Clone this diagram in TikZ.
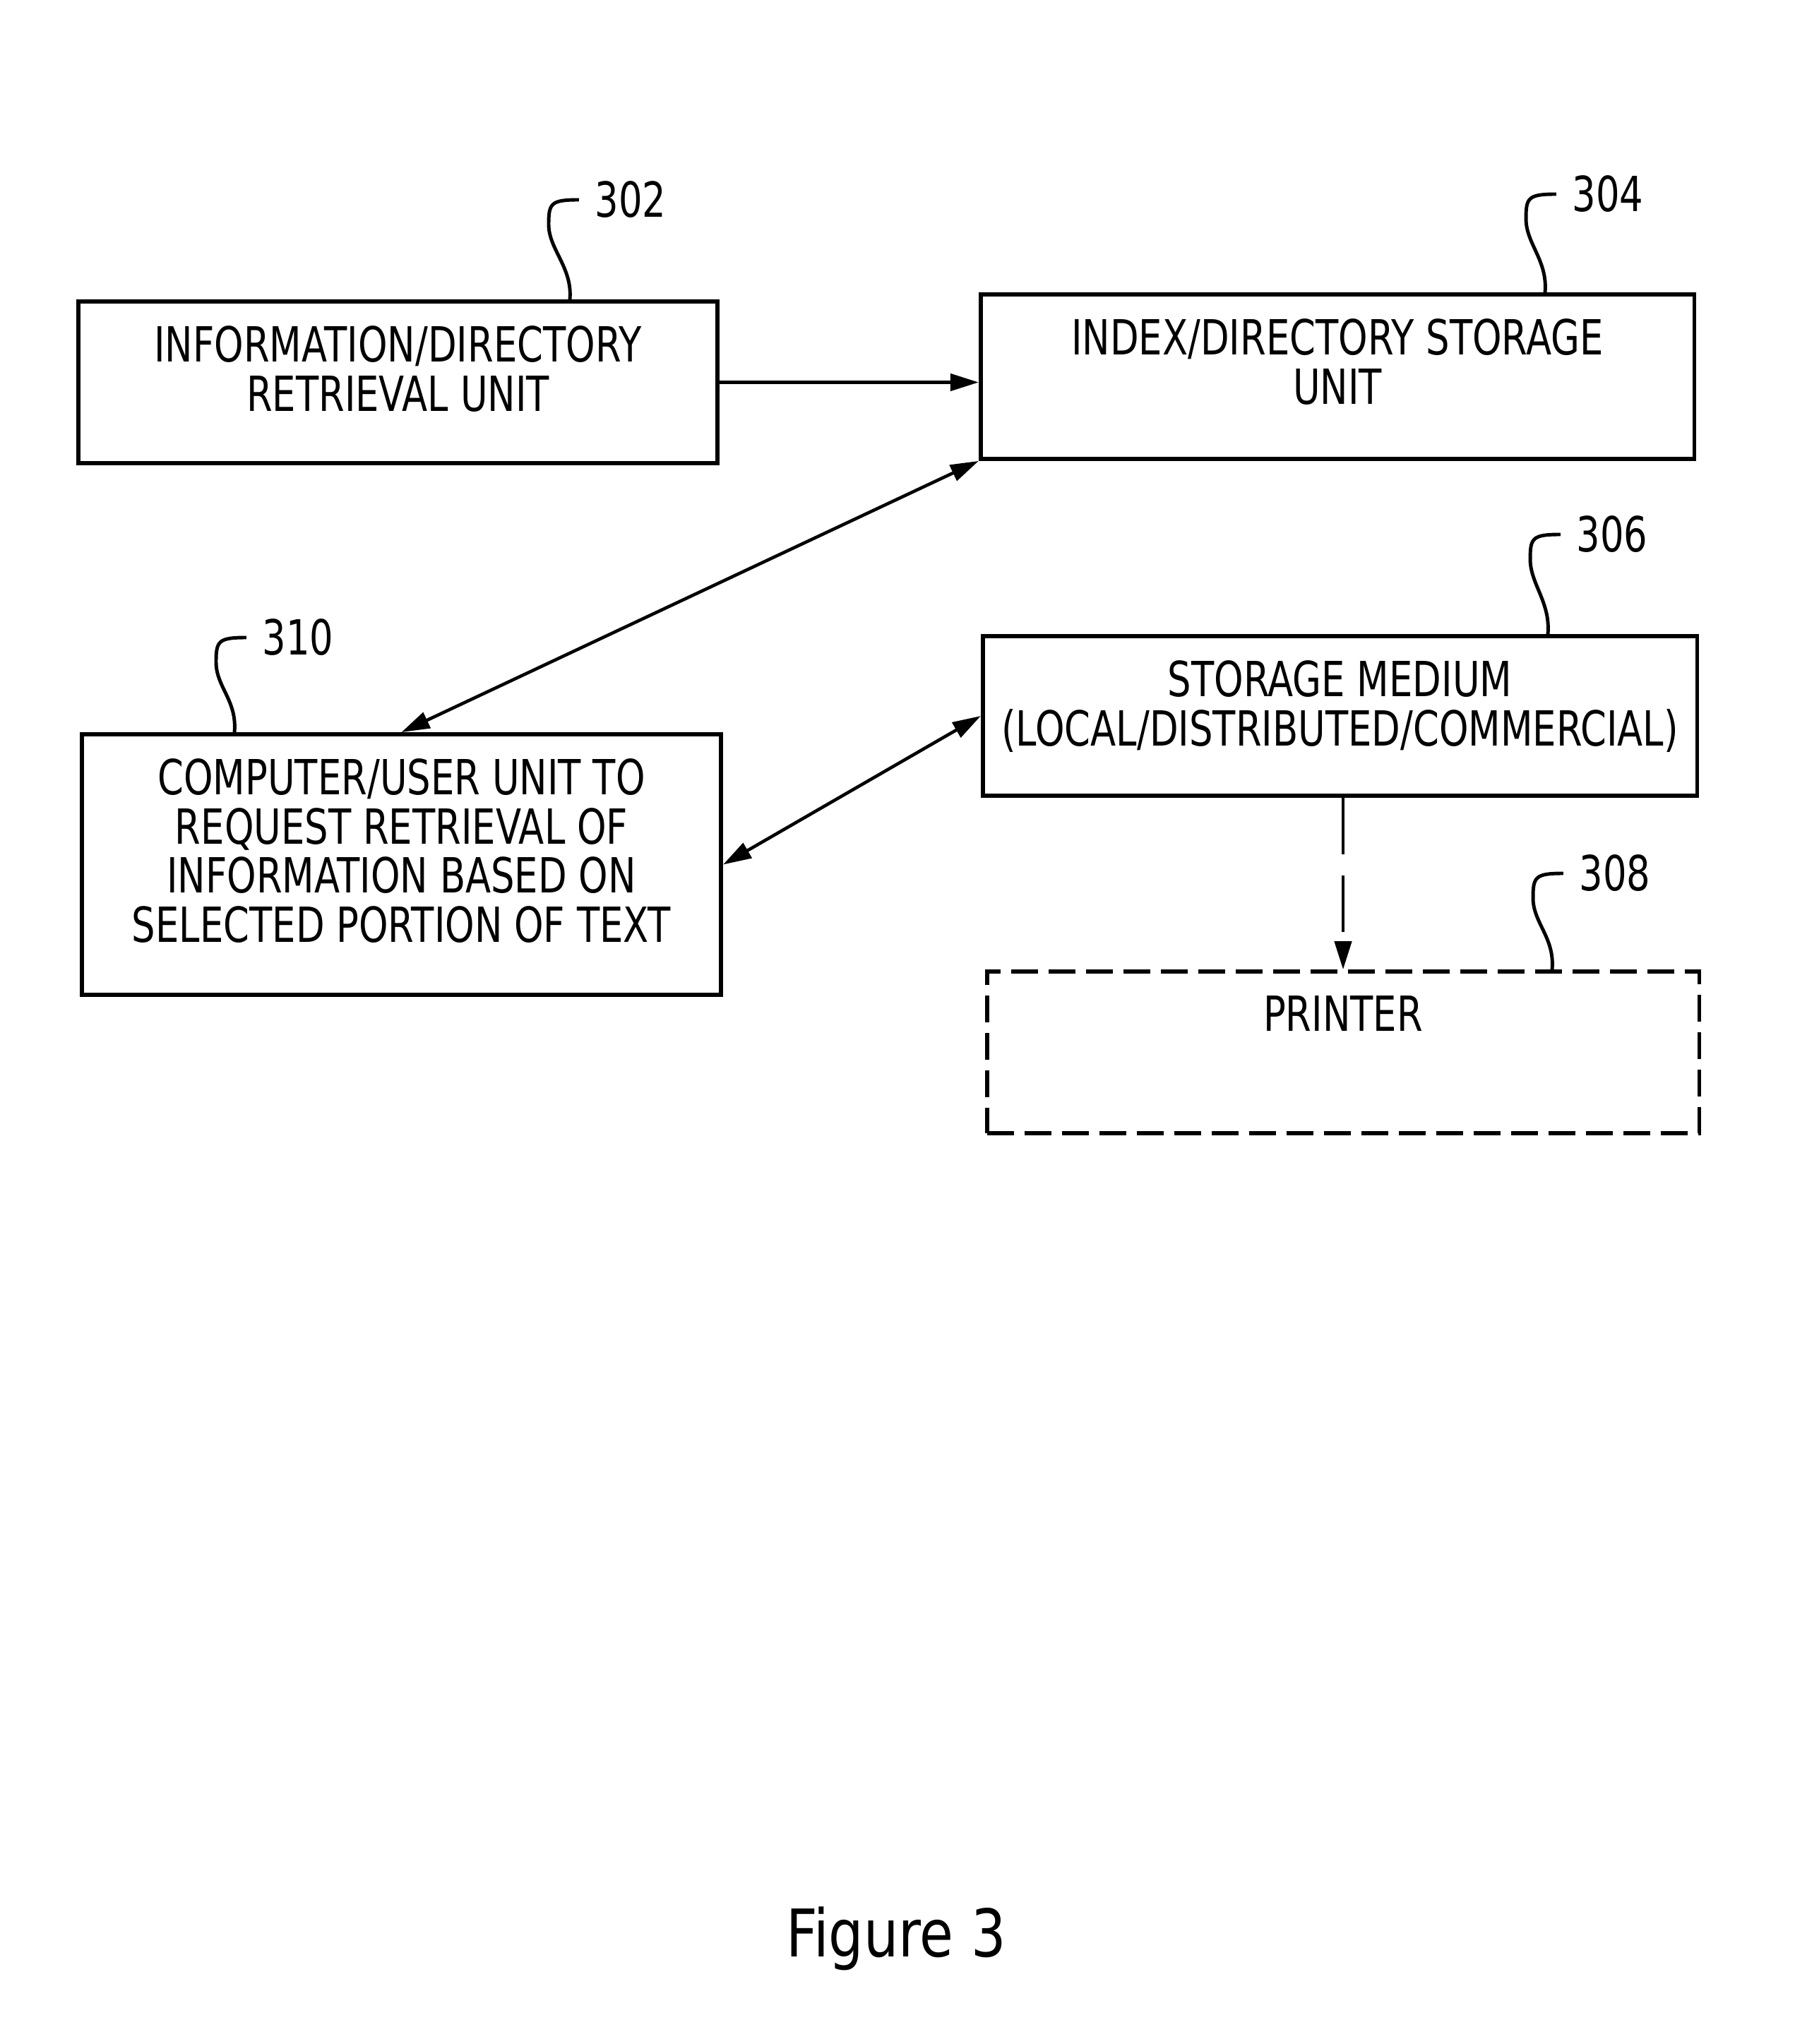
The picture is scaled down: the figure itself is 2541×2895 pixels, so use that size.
\documentclass[tikz,border=0pt]{standalone}
\usepackage{fontspec}
\newfontfamily\boxfont{DejaVu Sans}[FakeStretch=0.77]
\newfontfamily\figfont{DejaVu Sans}[FakeStretch=0.835]
\usetikzlibrary{arrows.meta}

\tikzset{
  unit/.style={draw, line width=1.6pt, inner sep=0pt},
  boxtext/.style={anchor=north, yshift=-0.37cm, inner sep=0pt, align=center,
    font=\boxfont\fontsize{19.5}{19.8}\selectfont},
  refnum/.style={inner sep=0.22cm, font=\boxfont\fontsize{19.5}{19.6}\selectfont},
  leader/.style={line width=1.4pt},
  flow/.style={line width=1.3pt, -{Triangle[length=0.4cm,width=0.24cm]}},
  twoway/.style={line width=1.3pt,
    {Triangle[length=0.4cm,width=0.24cm]}-{Triangle[length=0.4cm,width=0.24cm]}}
}

\begin{document}
\begin{tikzpicture}[x=0.01cm, y=-0.01cm]

\useasboundingbox (0,0) rectangle (2541,2895);

% boxes
\node [unit, minimum width=9.05cm, minimum height=2.29cm,
  label={[boxtext]north:{INFORMATION/DIRECTORY\\RETRIEVAL UNIT}}] (ret) at (563.5,541.5) {};

\node [unit, minimum width=10.1cm, minimum height=2.33cm,
  label={[boxtext]north:{INDEX/DIRECTORY STORAGE\\UNIT}}] (idx) at (1894,533.5) {};

\node [unit, minimum width=10.11cm, minimum height=2.26cm,
  label={[boxtext]north:{STORAGE MEDIUM\\(LOCAL/DISTRIBUTED/COMMERCIAL)}}] (med) at (1897.5,1014) {};

\node [unit, dash pattern=on 0.38cm off 0.15cm, minimum width=10.08cm, minimum height=2.29cm,
  label={[boxtext]north:PRINTER}] (prn) at (1902,1490.5) {};

\node [unit, minimum width=9.05cm, minimum height=3.69cm,
  label={[boxtext]north:{COMPUTER/USER UNIT TO\\REQUEST RETRIEVAL OF\\INFORMATION BASED ON\\SELECTED PORTION OF TEXT}}] (usr) at (568.5,1224.5) {};

% reference numbers
\node [refnum] (n302) at (893,283) {302};
\node [refnum] (n304) at (2277,275) {304};
\node [refnum] (n306) at (2283,757) {306};
\node [refnum] (n308) at (2287,1237) {308};
\node [refnum] (n310) at (422,903) {310};

\draw [leader] (n302.west) .. controls +(-40,0) and +(0,-30) .. (777,318)
  .. controls +(0,35) and +(4,-45) .. (807,0 |- ret.north);
\draw [leader] (n304.west) .. controls +(-40,0) and +(0,-30) .. (2161,310)
  .. controls +(0,35) and +(4,-45) .. (2188,0 |- idx.north);
\draw [leader] (n306.west) .. controls +(-40,0) and +(0,-30) .. (2167,792)
  .. controls +(0,35) and +(4,-45) .. (2192,0 |- med.north);
\draw [leader] (n308.west) .. controls +(-40,0) and +(0,-30) .. (2171,1272)
  .. controls +(0,35) and +(4,-45) .. (2198,0 |- prn.north);
\draw [leader] (n310.west) .. controls +(-40,0) and +(0,-30) .. (306,938)
  .. controls +(0,35) and +(4,-45) .. (332,0 |- usr.north);

% connections
\draw [flow] (ret.east) -- (ret.east -| idx.west);
\draw [twoway] (idx.south west) -- (usr.north);
\draw [twoway] (med.west) -- (usr.east);
\draw [flow, dash pattern=on 0.8cm off 0.3cm] (prn.north |- med.south) -- (prn.north);

\node [font=\figfont\fontsize{26.5}{30}\selectfont] (fig) at (1269,2746) {Figure 3};

\end{tikzpicture}
\end{document}
